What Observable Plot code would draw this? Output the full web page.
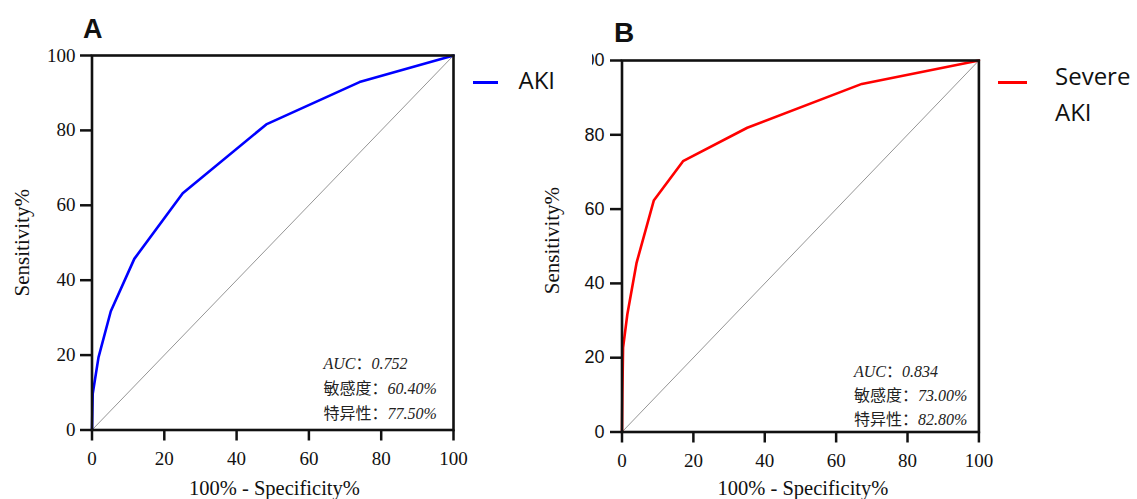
<!DOCTYPE html>
<html>
<head>
<meta charset="utf-8">
<script src="https://cdn.jsdelivr.net/npm/d3@7"></script>
<script src="https://cdn.jsdelivr.net/npm/@observablehq/plot@0.6"></script>
<style>
  html, body { margin: 0; padding: 0; background: #fff; }
  #root { position: relative; width: 1137px; height: 499px; overflow: hidden; background: #fff; }
  .panel { position: absolute; top: 0; }
  .panel svg { display: block; overflow: visible; }
  .plabel { position: absolute; font-family: "Liberation Sans", Arial, sans-serif; font-weight: bold; line-height: 1; color: #111; }
  .legline { position: absolute; height: 2.6px; }
  .legtext { position: absolute; font-family: "Open Sans", sans-serif; font-size: 24px; color: #111; white-space: nowrap; }
  .mask { position: absolute; background: #fff; }
</style>
</head>
<body>
<div id="root"></div>
<script>
// ---- data ----
const axisTicks = [0, 20, 40, 60, 80, 100];
const diagonal = [0, 100];

// Panel A: AKI
const fprA = [0, 0.2, 1.8, 5.2, 11.7, 25.1, 48.2, 74.0, 100];
const tprA = [0, 9.7, 19.4, 31.7, 45.7, 63.2, 81.6, 92.9, 100];

// Panel B: Severe AKI
const fprB = [0, 0.1, 0.3, 1.5, 4.1, 8.9, 17.1, 35.1, 67.2, 100];
const tprB = [0, 10.0, 22.7, 31.7, 45.6, 62.3, 72.9, 81.9, 93.7, 100];

const statLabels = ["AUC", "敏感度", "特异性"];
const statsA = ["0.752", "60.40%", "77.50%"];
const statsB = ["0.834", "73.00%", "82.80%"];

const xLabel = "100% - Specificity%";
const yLabel = "Sensitivity%";
const panelNames = ["A", "B"];
const legendA = "AKI";
const legendB = ["Severe", "AKI"];

const rocA = fprA.map((f, i) => ({fpr: f, tpr: tprA[i]}));
const rocB = fprB.map((f, i) => ({fpr: f, tpr: tprB[i]}));

const SERIF = "'Liberation Serif', 'Times New Roman', serif";
const SANS = "'Liberation Sans', Arial, sans-serif";
const STATFONT = "'Liberation Serif', 'Noto Sans CJK SC', serif";

function statBlock(vals) {
  return statLabels.map((l, i) => l + "：" + vals[i]).join("\n");
}

function makePanel(cfg) {
  const p = Plot.plot({
    width: cfg.width,
    height: 499,
    marginLeft: cfg.ml,
    marginRight: cfg.mr,
    marginTop: cfg.mt,
    marginBottom: cfg.mb,
    style: {background: "transparent", color: "#111", overflow: "visible"},
    x: {domain: [0, 100], label: null},
    y: {domain: [0, 100], label: null},
    marks: [
      Plot.line(diagonal, {x: d => d, y: d => d, stroke: "#7a7a7a", strokeWidth: 0.8}),
      Plot.line(cfg.data, {x: "fpr", y: "tpr", stroke: cfg.color, strokeWidth: 2.6, strokeLinejoin: "round"}),
      Plot.axisX({ticks: axisTicks, tickSize: 11, tickPadding: 10.5, fontSize: 19, fontFamily: SERIF, strokeWidth: 2.5, stroke: "#111", fill: "#111", label: null}),
      Plot.axisY({ticks: axisTicks, tickSize: 11.5, tickPadding: cfg.yPad, fontSize: cfg.yFontSize, fontFamily: cfg.yFont, strokeWidth: 2.5, stroke: "#111", fill: "#111", label: null}),
      Plot.frame({stroke: "#111", strokeWidth: 2.6}),
      Plot.text([statBlock(cfg.stats)], {text: d => d, frameAnchor: "bottom-right", textAnchor: "start", lineAnchor: "bottom",
        dx: cfg.sdx, dy: cfg.sdy, fontSize: 16, lineHeight: cfg.slh, fontFamily: STATFONT, fill: "#222"}),
      Plot.text([yLabel], {text: d => d, frameAnchor: "left", textAnchor: "middle", lineAnchor: "middle", rotate: -90,
        dx: -69.5, dy: cfg.ylDy, fontSize: 21, fontFamily: SERIF, fill: "#111"}),
      Plot.text([xLabel], {text: d => d, frameAnchor: "bottom", textAnchor: "middle", lineAnchor: "middle",
        dx: cfg.xlDx, dy: cfg.xlDy, fontSize: 20.5, fontFamily: SERIF, fill: "#111"})
    ]
  });
  // style the statistics: Latin parts italic, Chinese upright
  p.querySelectorAll("tspan").forEach(ts => {
    const t = ts.textContent;
    const k = t.indexOf("：");
    if (k < 0) return;
    const label = t.slice(0, k), value = t.slice(k + 1);
    ts.textContent = "";
    const mk = (s, italic) => {
      const e = document.createElementNS("http://www.w3.org/2000/svg", "tspan");
      e.textContent = s;
      e.setAttribute("font-style", italic ? "italic" : "normal");
      ts.appendChild(e);
    };
    mk(label, /^[A-Za-z]+$/.test(label));
    mk("：", false);
    mk(value, true);
  });
  const div = document.createElement("div");
  div.className = "panel";
  div.style.left = cfg.left + "px";
  div.appendChild(p);
  return div;
}

const root = document.getElementById("root");

root.appendChild(makePanel({
  left: 0, width: 570, ml: 91.5, mr: 117, mt: 55, mb: 69.5,
  data: rocA, color: "#0000ff", stats: statsA,
  sdx: -130, sdy: -11, slh: 1.55,
  yPad: 5, yFontSize: 19, yFont: SERIF,
  ylDy: 0, xlDx: 1.7, xlDy: 58.5
}));

root.appendChild(makePanel({
  left: 560, width: 577, ml: 61.5, mr: 158.6, mt: 60, mb: 67.5,
  data: rocB, color: "#ff0000", stats: statsB,
  sdx: -125, sdy: -7.5, slh: 1.5,
  yPad: 6, yFontSize: 18, yFont: SANS,
  ylDy: -5.7, xlDx: 2.5, xlDy: 56.5
}));

// mask reproducing the clipped "100" tick label in panel B
const mask = document.createElement("div");
mask.className = "mask";
Object.assign(mask.style, {left: "566px", top: "44px", width: "25.5px", height: "26px"});
root.appendChild(mask);

// panel letters
[["A", 83, 16, 27], ["B", 614, 18.5, 28]].forEach(([s, l, t, f], i) => {
  const d = document.createElement("div");
  d.className = "plabel";
  d.textContent = panelNames[i];
  Object.assign(d.style, {left: l + "px", top: t + "px", fontSize: f + "px"});
  root.appendChild(d);
});

// legends
function legLine(color, l, t, w) {
  const d = document.createElement("div");
  d.className = "legline";
  Object.assign(d.style, {left: l + "px", top: t + "px", width: w + "px", background: color});
  root.appendChild(d);
}
function legText(html, l, t, lh) {
  const d = document.createElement("div");
  d.className = "legtext";
  d.innerHTML = html;
  Object.assign(d.style, {left: l + "px", top: t + "px", lineHeight: lh + "px"});
  root.appendChild(d);
}
legLine("#0000ff", 473, 81, 25);
legText(legendA, 518.5, 61.5, 35.7);
legLine("#ff0000", 997.5, 81.4, 29);
legText(legendB.join("<br>"), 1055, 57.8, 35.7);
</script>
</body>
</html>
